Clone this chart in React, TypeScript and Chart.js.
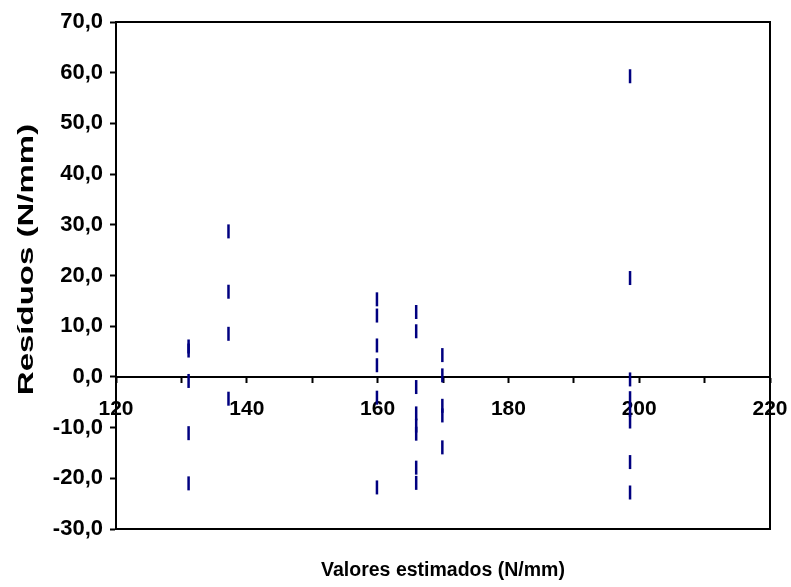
import React, { useEffect, useRef } from 'react';
import { Chart, registerables } from 'chart.js';

Chart.register(...registerables);

// Estimated values (x) and residuals (y)
const estimated = [
  131.1, 131.1, 131.1, 131.1, 131.1,
  137.2, 137.2, 137.2, 137.2,
  159.9, 159.9, 159.9, 159.9, 159.9, 159.9,
  165.9, 165.9, 165.9, 165.9, 165.9, 165.9, 165.9, 165.9,
  169.9, 169.9, 169.9, 169.9, 169.9,
  198.6, 198.6, 198.6, 198.6, 198.6, 198.6, 198.6, 198.6,
];
const residuals = [
  6.0, 5.2, -0.8, -11.1, -21.0,
  28.7, 16.8, 8.5, -4.3,
  15.3, 12.1, 6.2, 2.3, -4.1, -21.8,
  12.8, 9.0, -2.0, -7.2, -9.6, -11.2, -17.9, -20.9,
  4.3, 0.3, -5.7, -7.6, -13.9,
  59.3, 19.5, -0.5, -4.2, -6.5, -8.8, -16.8, -22.8,
];

const X_MIN = 120;
const X_MAX = 220;
const X_STEP = 10;
const X_LABEL_STEP = 20;
const Y_MIN = -30;
const Y_MAX = 70;
const Y_STEP = 10;

const X_TITLE = 'Valores estimados (N/mm)';
const Y_TITLE = 'Resíduos (N/mm)';

const FONT_FAMILY = "'Liberation Sans', Arial, Helvetica, sans-serif";
const MARKER_COLOR = '#000080';

const frameBorder = {
  id: 'frameBorder',
  afterDraw(chart: any) {
    const { ctx, chartArea } = chart;
    ctx.save();
    ctx.strokeStyle = '#000';
    ctx.lineWidth = 2;
    ctx.beginPath();
    ctx.moveTo(chartArea.left - 1, chartArea.top);
    ctx.lineTo(chartArea.right, chartArea.top);
    ctx.lineTo(chartArea.right, chartArea.bottom);
    ctx.lineTo(chartArea.left - 1, chartArea.bottom);
    ctx.stroke();
    ctx.restore();
  },
};

const yTitlePlugin = {
  id: 'yTitleStretched',
  afterDraw(chart: any) {
    const { ctx, chartArea } = chart;
    ctx.save();
    ctx.font = `bold 22px ${FONT_FAMILY}`;
    ctx.fillStyle = '#000';
    ctx.textAlign = 'center';
    ctx.textBaseline = 'middle';
    ctx.translate(27, (chartArea.top + chartArea.bottom) / 2 - 16);
    ctx.rotate(-Math.PI / 2);
    ctx.scale(1.5, 1);
    ctx.fillText(Y_TITLE, 0, 0);
    ctx.restore();
  },
};

export default function App() {
  const canvasRef = useRef<HTMLCanvasElement | null>(null);

  useEffect(() => {
    if (!canvasRef.current) return;
    const chart = new Chart(canvasRef.current, {
      type: 'scatter',
      data: {
        datasets: [
          {
            data: estimated.map((x, i) => ({ x, y: residuals[i] })),
            pointStyle: 'line',
            rotation: 90,
            pointRadius: 7,
            pointBorderWidth: 2.5,
            borderColor: MARKER_COLOR,
            backgroundColor: MARKER_COLOR,
            showLine: false,
          } as any,
        ],
      },
      options: {
        animation: false,
        responsive: false,
        events: [],
        layout: { padding: { left: 0, right: 21, top: 22, bottom: 0 } },
        plugins: { legend: { display: false }, tooltip: { enabled: false } },
        scales: {
          x: {
            type: 'linear',
            min: X_MIN,
            max: X_MAX,
            position: { y: 0 } as any,
            ticks: {
              stepSize: X_STEP,
              autoSkip: false,
              maxRotation: 0,
              color: '#000',
              font: { family: FONT_FAMILY, size: 21, weight: 'bold' },
              padding: 15,
              callback: (v: any) => (Number(v) % X_LABEL_STEP === 0 ? String(v) : ''),
            },
            grid: {
              drawOnChartArea: false,
              drawTicks: true,
              tickLength: 5,
              tickWidth: 2,
              tickColor: '#000',
            },
            border: { display: true, color: '#000', width: 2 },
            afterFit: (s: any) => {
              s.height = 0;
              s.paddingLeft = 0;
              s.paddingRight = 0;
            },
          },
          x2: {
            type: 'linear',
            position: 'bottom',
            min: X_MIN,
            max: X_MAX,
            ticks: { display: false },
            grid: { display: false, drawTicks: false },
            border: { display: false },
            title: {
              display: true,
              text: X_TITLE,
              color: '#000',
              font: { family: FONT_FAMILY, size: 19.5, weight: 'bold' },
              padding: { top: 0, bottom: 5 },
            },
            afterFit: (s: any) => {
              s.height = 58;
              s.paddingLeft = 0;
              s.paddingRight = 0;
            },
          },
          y: {
            type: 'linear',
            min: Y_MIN,
            max: Y_MAX,
            ticks: {
              stepSize: Y_STEP,
              color: '#000',
              font: { family: FONT_FAMILY, size: 22, weight: 'bold' },
              padding: 7,
              callback: (v: any) => Number(v).toFixed(1).replace('.', ','),
            },
            grid: {
              drawOnChartArea: false,
              drawTicks: true,
              tickLength: 6,
              tickWidth: 2,
              tickColor: '#000',
            },
            border: { display: true, color: '#000', width: 2 },
            afterFit: (s: any) => {
              s.width = 116;
              s.paddingTop = 0;
              s.paddingBottom = 0;
            },
          },
        },
      },
      plugins: [frameBorder, yTitlePlugin],
    });
    return () => chart.destroy();
  }, []);

  return (
    <div style={{ position: 'fixed', left: 0, top: 0, width: 791, height: 587, background: '#fff' }}>
      <canvas ref={canvasRef} width={791} height={587} style={{ display: 'block' }} />
    </div>
  );
}
